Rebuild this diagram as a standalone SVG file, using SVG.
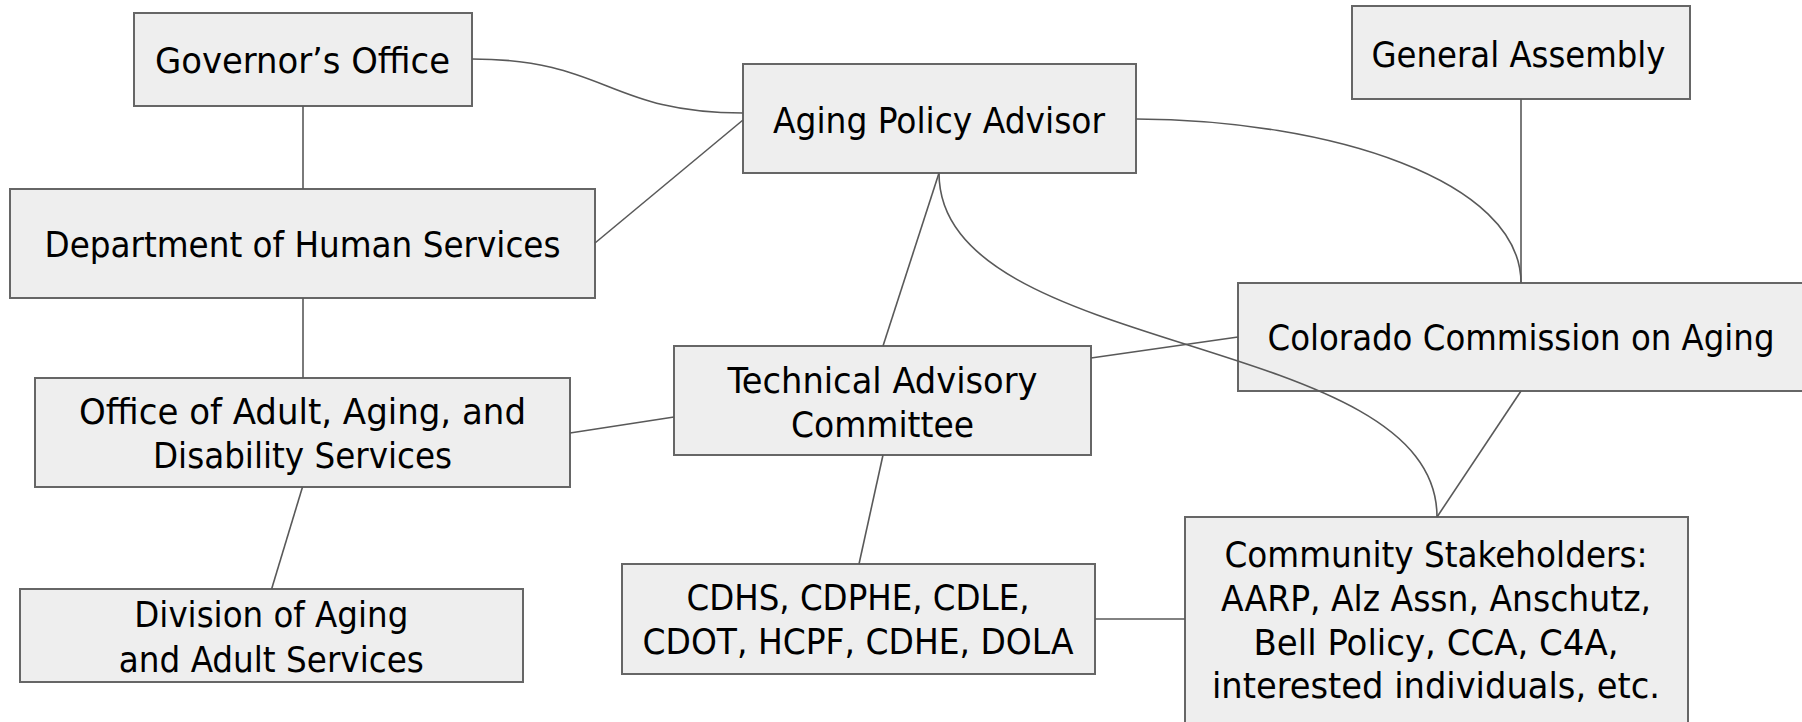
<svg xmlns="http://www.w3.org/2000/svg" width="1802" height="722" viewBox="0 0 1802 722">
<style>
.box{fill:#eeeeee;stroke:#666666;stroke-width:2}
.t{font-family:"DejaVu Sans Condensed","DejaVu Sans",sans-serif;font-size:35px;fill:#000;text-anchor:middle}
.c{fill:none;stroke:#595959;stroke-width:1.6}
</style>
<rect width="1802" height="722" fill="#ffffff"/>
<g id="governor">
<rect class="box" x="134" y="13" width="338" height="93"/>
<text class="t" x="302.5" y="73" textLength="295" lengthAdjust="spacingAndGlyphs">Governor’s Office</text>
</g>
<g id="dhs">
<rect class="box" x="10" y="189" width="585" height="109"/>
<text class="t" x="302.5" y="257" textLength="516" lengthAdjust="spacingAndGlyphs">Department of Human Services</text>
</g>
<g id="aging-advisor">
<rect class="box" x="743" y="64" width="393" height="109"/>
<text class="t" x="939" y="133" textLength="332" lengthAdjust="spacingAndGlyphs">Aging Policy Advisor</text>
</g>
<g id="general-assembly">
<rect class="box" x="1352" y="6" width="338" height="93"/>
<text class="t" x="1518.5" y="67" textLength="294" lengthAdjust="spacingAndGlyphs">General Assembly</text>
</g>
<g id="cca">
<rect class="box" x="1238" y="283" width="600" height="108"/>
<text class="t" x="1521" y="350" textLength="507" lengthAdjust="spacingAndGlyphs">Colorado Commission on Aging</text>
</g>
<g id="tac">
<rect class="box" x="674" y="346" width="417" height="109"/>
<text class="t" x="882.5" y="393" textLength="310" lengthAdjust="spacingAndGlyphs">Technical Advisory</text>
<text class="t" x="882.5" y="437" textLength="183" lengthAdjust="spacingAndGlyphs">Committee</text>
</g>
<g id="oaads">
<rect class="box" x="35" y="378" width="535" height="109"/>
<text class="t" x="302.5" y="424" textLength="447" lengthAdjust="spacingAndGlyphs">Office of Adult, Aging, and</text>
<text class="t" x="302.5" y="468" textLength="299" lengthAdjust="spacingAndGlyphs">Disability Services</text>
</g>
<g id="daas">
<rect class="box" x="20" y="589" width="503" height="93"/>
<text class="t" x="271.3" y="627" textLength="274" lengthAdjust="spacingAndGlyphs">Division of Aging</text>
<text class="t" x="271.3" y="672" textLength="305" lengthAdjust="spacingAndGlyphs">and Adult Services</text>
</g>
<g id="agencies">
<rect class="box" x="622" y="564" width="473" height="110"/>
<text class="t" x="858" y="610" textLength="343" lengthAdjust="spacingAndGlyphs">CDHS, CDPHE, CDLE,</text>
<text class="t" x="858" y="654" textLength="431" lengthAdjust="spacingAndGlyphs">CDOT, HCPF, CDHE, DOLA</text>
</g>
<g id="community">
<rect class="box" x="1185" y="517" width="503" height="215"/>
<text class="t" x="1436" y="567" textLength="423" lengthAdjust="spacingAndGlyphs">Community Stakeholders:</text>
<text class="t" x="1436" y="611" textLength="430" lengthAdjust="spacingAndGlyphs">AARP, Alz Assn, Anschutz,</text>
<text class="t" x="1436" y="655" textLength="365" lengthAdjust="spacingAndGlyphs">Bell Policy, CCA, C4A,</text>
<text class="t" x="1436" y="698" textLength="448" lengthAdjust="spacingAndGlyphs">interested individuals, etc.</text>
</g>
<g id="connectors">
<path class="c" d="M472,59 C607,59 607,113 743,113"/>
<path class="c" d="M303,106 V189"/>
<path class="c" d="M595,243 L743,120"/>
<path class="c" d="M303,298 V378"/>
<path class="c" d="M302.5,487 L271.6,589"/>
<path class="c" d="M570,433 L674,417"/>
<path class="c" d="M939,173 L883,346"/>
<path class="c" d="M1136,119 C1330,120 1521,180 1521,283"/>
<path class="c" d="M1521,99 V283"/>
<path class="c" d="M939,173 C939,360 1437,330 1437,517"/>
<path class="c" d="M1521,391 L1437,517"/>
<path class="c" d="M1091,358 L1238,337"/>
<path class="c" d="M883,455 L859,564"/>
<path class="c" d="M1095,619 L1185,619"/>
</g>
</svg>
